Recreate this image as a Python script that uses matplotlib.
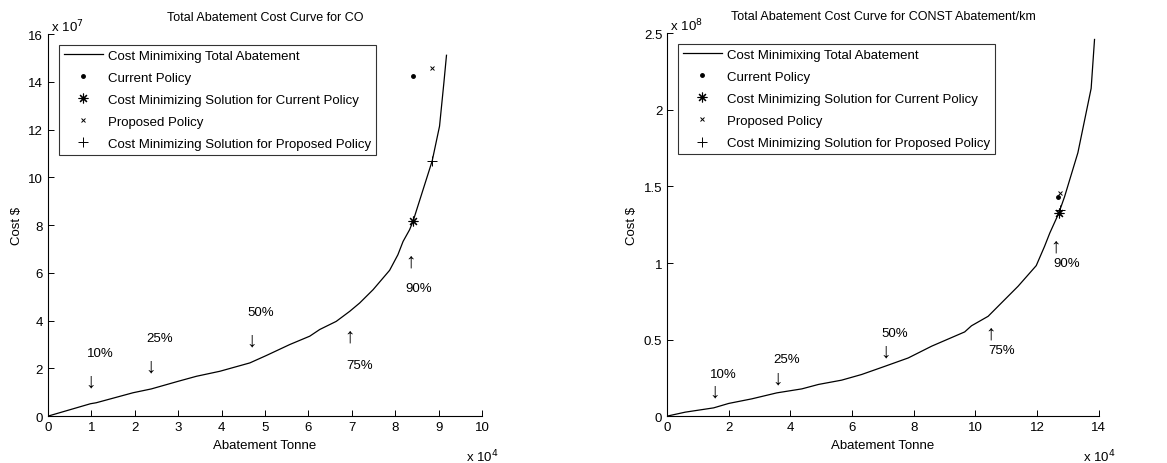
import matplotlib
matplotlib.use("Agg")
import matplotlib.pyplot as plt

plt.rcParams['font.family'] = ['Liberation Sans', 'DejaVu Sans']
plt.rcParams['font.size'] = 9.5

# CO curve (x in 1e4 tonne, y in 1e7 $)
co_x = [0, 0.98, 1.11, 1.96, 2.38, 3.0, 3.42, 3.96, 4.65, 5.03, 5.57, 6.03, 6.26,
        6.64, 6.95, 7.18, 7.49, 7.87, 8.06, 8.18, 8.33, 8.41, 8.85, 9.02, 9.12, 9.18]
co_y = [0, 0.52, 0.56, 0.98, 1.14, 1.46, 1.67, 1.88, 2.23, 2.54, 3.0, 3.35, 3.63,
        3.97, 4.39, 4.74, 5.30, 6.11, 6.76, 7.32, 7.81, 8.17, 10.69, 12.15, 13.97, 15.12]
co_current = (8.41, 14.25)
co_current_min = (8.41, 8.17)
co_proposed = (8.85, 14.6)
co_proposed_min = (8.85, 10.69)

# CONST curve (x in 1e4 tonne, y in 1e8 $)
cs_x = [0, 0.59, 1.51, 2.0, 2.75, 3.56, 4.37, 4.91, 5.66, 6.31, 7.07, 7.82, 8.58,
        9.65, 9.87, 10.41, 10.84, 11.38, 11.97, 12.24, 12.41, 12.70, 12.89, 13.32, 13.75, 13.86]
cs_y = [0, 0.026, 0.054, 0.083, 0.113, 0.152, 0.178, 0.207, 0.235, 0.272, 0.326, 0.38, 0.457,
        0.55, 0.59, 0.652, 0.739, 0.848, 0.983, 1.109, 1.196, 1.325, 1.434, 1.72, 2.14, 2.46]
cs_current = (12.68, 1.43)
cs_current_min = (12.70, 1.325)
cs_proposed = (12.75, 1.46)
cs_proposed_min = (12.73, 1.343)

pct_labels = ['10%', '25%', '50%', '75%', '90%']
co_arrow_dirs = ['down', 'down', 'down', 'up', 'up']
co_arrow_pos = [(0.98, 1.46), (2.37, 2.09), (4.69, 3.17), (6.95, 3.35), (8.35, 6.49)]
co_label_pos = [(0.90, 2.65), (2.27, 3.28), (4.59, 4.37), (6.87, 2.16), (8.24, 5.37)]
cs_arrow_dirs = ['down', 'down', 'down', 'up', 'up']
cs_arrow_pos = [(1.53, 0.163), (3.58, 0.25), (7.07, 0.424), (10.50, 0.543), (12.6, 1.109)]
cs_label_pos = [(1.40, 0.272), (3.45, 0.37), (6.96, 0.543), (10.41, 0.435), (12.51, 1.0)]

legend_labels = ['Cost Minimixing Total Abatement', 'Current Policy',
                 'Cost Minimizing Solution for Current Policy', 'Proposed Policy',
                 'Cost Minimizing Solution for Proposed Policy']


def draw_panel(ax, x, y, cur, cur_min, prop, prop_min, arrows, dirs, labels,
               xlim, ylim, yticks, ytick_labels, title, xexp, yexp):
    ax.plot(x, y, color='black', lw=0.9)
    ax.plot(*cur, linestyle='none', marker='.', color='black', ms=5)
    ax.plot(*cur_min, linestyle='none', marker=(8, 2, 0), color='black', ms=7, mew=0.8)
    ax.plot(*prop, linestyle='none', marker='x', color='black', ms=3.5, mew=0.7)
    ax.plot(*prop_min, linestyle='none', marker='+', color='black', ms=7, mew=0.7)
    for (ax_, ay), d in zip(arrows, dirs):
        ax.text(ax_, ay, '\u2193' if d == 'down' else '\u2191', ha='center', va='center',
                fontsize=15)
    for (lx, ly), t in zip(labels, pct_labels):
        ax.text(lx, ly, t, ha='left', va='center', fontsize=9.5)
    ax.set_xlim(*xlim)
    ax.set_ylim(*ylim)
    ax.set_yticks(yticks)
    ax.set_yticklabels(ytick_labels)
    ax.spines['top'].set_visible(False)
    ax.spines['right'].set_visible(False)
    ax.tick_params(direction='in', length=4, width=0.7, labelsize=9.5)
    ax.set_title(title, fontsize=9, pad=10)
    ax.set_xlabel('Abatement Tonne', fontsize=9.5, labelpad=4)
    ax.set_ylabel('Cost $', fontsize=9.5)
    ax.text(1.0, -0.105, 'x 10$^{%d}$' % xexp, transform=ax.transAxes, ha='center',
            va='center', fontsize=9.5)
    ax.text(0.0, 1.0, ' x 10$^{%d}$' % yexp, transform=ax.transAxes, ha='left',
            va='bottom', fontsize=9.5)
    leg = ax.legend(legend_labels, loc='upper left', bbox_to_anchor=(0.01, 0.99),
                    frameon=True, fancybox=False, edgecolor='black', fontsize=9.5,
                    handlelength=3.0, borderpad=0.35, labelspacing=0.75,
                    handletextpad=0.4)
    leg.get_frame().set_linewidth(0.8)


fig = plt.figure(figsize=(11.67, 4.64), dpi=100)
ax1 = fig.add_axes([0.0411, 0.101, 0.372, 0.823])
ax2 = fig.add_axes([0.5716, 0.101, 0.370, 0.825])

draw_panel(ax1, co_x, co_y, co_current, co_current_min, co_proposed, co_proposed_min,
           co_arrow_pos, co_arrow_dirs, co_label_pos, (0, 10), (0, 16),
           range(0, 17, 2), [str(v) for v in range(0, 17, 2)],
           'Total Abatement Cost Curve for CO', 4, 7)
ax1.set_xticks(range(0, 11))

draw_panel(ax2, cs_x, cs_y, cs_current, cs_current_min, cs_proposed, cs_proposed_min,
           cs_arrow_pos, cs_arrow_dirs, cs_label_pos, (0, 14), (0, 2.5),
           [0, 0.5, 1, 1.5, 2, 2.5], ['0', '0.5', '1', '1.5', '2', '2.5'],
           'Total Abatement Cost Curve for CONST Abatement/km', 4, 8)
ax2.set_xticks(range(0, 15, 2))

fig.savefig('out.png', dpi=100)
